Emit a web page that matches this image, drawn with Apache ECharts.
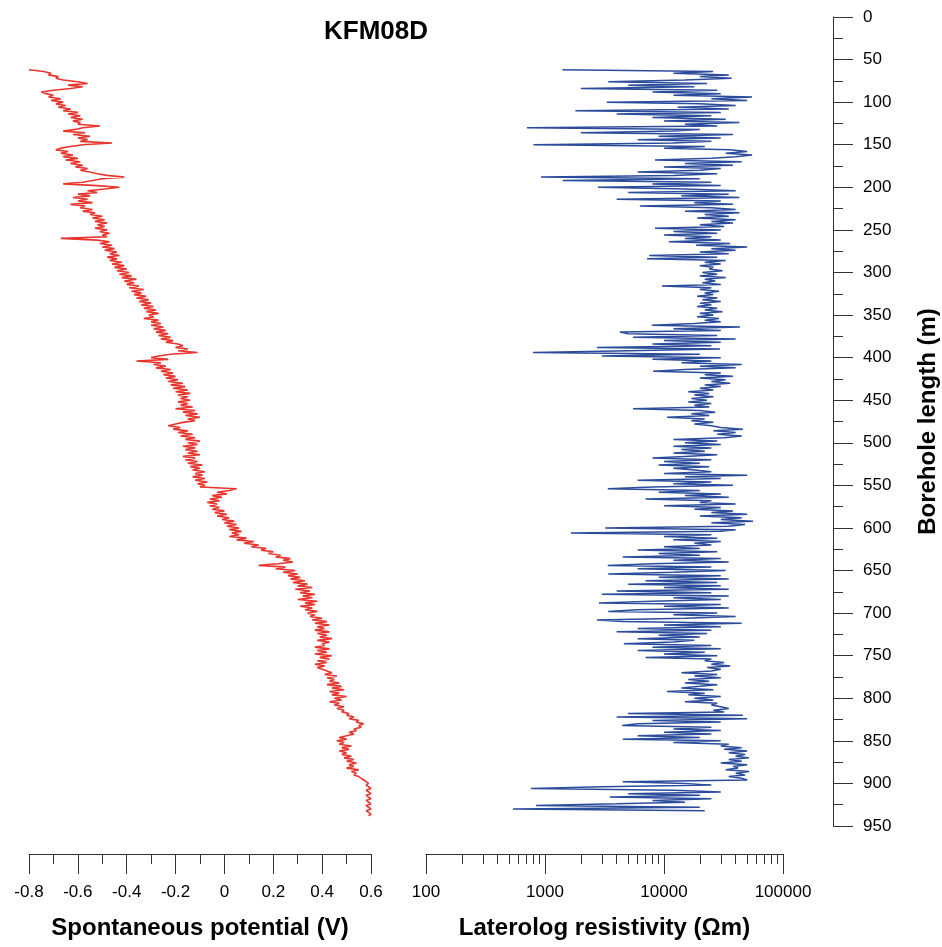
<!DOCTYPE html>
<html>
<head>
<meta charset="utf-8">
<script src="https://cdn.jsdelivr.net/npm/echarts@6/dist/echarts.min.js"></script>
<style>
html,body{margin:0;padding:0;background:#fff;}
#chart{width:942px;height:947px;}
</style>
</head>
<body>
<div id="chart"></div>
<script>
// Depth sampling of both logs (m)
const SP_DEPTH_START = 62, SP_DEPTH_STEP = 2;
const RES_DEPTH_START = 62, RES_DEPTH_STEP = 2;

// Spontaneous potential (V), one value every 2 m from 62 m (15 values = 30 m per row)
const spValues = [
  -0.80,-0.74,-0.71,-0.72,-0.68,-0.69,-0.66,-0.60,-0.56,-0.64,-0.58,-0.63,-0.70,-0.75,-0.73, // 62
  -0.70,-0.72,-0.67,-0.71,-0.66,-0.69,-0.65,-0.68,-0.63,-0.66,-0.60,-0.64,-0.59,-0.63,-0.58, // 92
  -0.62,-0.59,-0.60,-0.51,-0.58,-0.61,-0.66,-0.57,-0.62,-0.55,-0.60,-0.56,-0.59,-0.46,-0.58, // 122
  -0.63,-0.67,-0.69,-0.64,-0.67,-0.62,-0.66,-0.60,-0.65,-0.59,-0.63,-0.58,-0.61,-0.56,-0.59, // 152
  -0.55,-0.52,-0.48,-0.41,-0.50,-0.54,-0.58,-0.66,-0.52,-0.43,-0.49,-0.56,-0.52,-0.60,-0.55, // 182
  -0.62,-0.56,-0.60,-0.54,-0.63,-0.57,-0.59,-0.54,-0.58,-0.53,-0.55,-0.50,-0.54,-0.49,-0.53, // 212
  -0.48,-0.52,-0.49,-0.53,-0.48,-0.51,-0.47,-0.50,-0.48,-0.67,-0.52,-0.47,-0.51,-0.46,-0.50, // 242
  -0.45,-0.49,-0.44,-0.47,-0.43,-0.48,-0.44,-0.47,-0.42,-0.46,-0.41,-0.45,-0.40,-0.44,-0.39, // 272
  -0.43,-0.38,-0.42,-0.36,-0.41,-0.37,-0.40,-0.35,-0.39,-0.33,-0.38,-0.34,-0.37,-0.32,-0.36, // 302
  -0.31,-0.35,-0.30,-0.34,-0.29,-0.33,-0.28,-0.32,-0.27,-0.31,-0.29,-0.33,-0.27,-0.30,-0.26, // 332
  -0.30,-0.25,-0.29,-0.24,-0.28,-0.23,-0.27,-0.22,-0.26,-0.21,-0.24,-0.19,-0.17,-0.20,-0.15, // 362
  -0.19,-0.11,-0.22,-0.27,-0.30,-0.23,-0.36,-0.26,-0.29,-0.24,-0.28,-0.22,-0.26,-0.21,-0.25, // 392
  -0.20,-0.24,-0.19,-0.23,-0.17,-0.22,-0.16,-0.21,-0.15,-0.20,-0.14,-0.19,-0.15,-0.18,-0.14, // 422
  -0.19,-0.15,-0.18,-0.13,-0.20,-0.12,-0.17,-0.11,-0.16,-0.10,-0.15,-0.12,-0.17,-0.20,-0.23, // 452
  -0.18,-0.21,-0.15,-0.19,-0.13,-0.18,-0.12,-0.16,-0.10,-0.15,-0.11,-0.17,-0.12,-0.16,-0.11, // 482
  -0.15,-0.10,-0.17,-0.12,-0.16,-0.11,-0.15,-0.09,-0.14,-0.10,-0.13,-0.08,-0.12,-0.09,-0.13, // 512
  -0.08,-0.12,-0.07,-0.11,-0.08,-0.10, 0.05, 0.02,-0.03, 0.01,-0.05,-0.01,-0.06,-0.02,-0.07, // 542
  -0.03,-0.06,-0.02,-0.05, 0.00,-0.04, 0.01,-0.03, 0.02,-0.01, 0.04, 0.00, 0.05, 0.01, 0.06, // 572
   0.02, 0.07, 0.03, 0.06, 0.02, 0.09, 0.05, 0.12, 0.08, 0.14, 0.11, 0.17, 0.15, 0.20, 0.18, // 602
   0.23, 0.21, 0.27, 0.24, 0.28, 0.22, 0.14, 0.25, 0.21, 0.29, 0.24, 0.30, 0.26, 0.31, 0.27, // 632
   0.33, 0.28, 0.34, 0.30, 0.36, 0.29, 0.35, 0.31, 0.37, 0.32, 0.36, 0.30, 0.38, 0.33, 0.37, // 662
   0.31, 0.36, 0.33, 0.38, 0.34, 0.37, 0.35, 0.40, 0.36, 0.42, 0.37, 0.43, 0.38, 0.41, 0.37, // 692
   0.43, 0.38, 0.42, 0.39, 0.44, 0.38, 0.43, 0.40, 0.41, 0.37, 0.43, 0.38, 0.42, 0.37, 0.44, // 722
   0.39, 0.43, 0.38, 0.42, 0.37, 0.41, 0.38, 0.40, 0.42, 0.44, 0.41, 0.46, 0.42, 0.45, 0.43, // 752
   0.47, 0.42, 0.48, 0.44, 0.49, 0.43, 0.47, 0.44, 0.50, 0.45, 0.48, 0.43, 0.47, 0.45, 0.49, // 782
   0.46, 0.49, 0.48, 0.51, 0.50, 0.53, 0.51, 0.55, 0.54, 0.57, 0.55, 0.56, 0.53, 0.54, 0.51, // 812
   0.53, 0.50, 0.47, 0.50, 0.46, 0.49, 0.47, 0.52, 0.48, 0.51, 0.47, 0.50, 0.48, 0.52, 0.49, // 842
   0.53, 0.50, 0.54, 0.51, 0.53, 0.50, 0.55, 0.52, 0.54, 0.53, 0.55, 0.56, 0.57, 0.58, 0.59, // 872
   0.58, 0.59, 0.60, 0.58, 0.59, 0.60, 0.58, 0.59, 0.60, 0.58, 0.59, 0.60, 0.58, 0.59, 0.60, // 902
   0.58, 0.59, 0.60, 0.59                                                                    // 932
];

// Laterolog resistivity (ohm m), one value every 2 m from 62 m (15 values = 30 m per row)
const resValues = [
  1400,25800,12000,35000,20000,37000,15000,3400,23000,5000,18000,2000,28000,8000,30000,      // 62
  12000,55000,25000,50000,3300,20000,40000,13000,35000,1800,30000,4000,25000,8000,33000,     // 92
  10000,43000,15000,28000,705,20000,12000,2000,38000,9000,30000,6000,25000,12000,800,        // 122
  22000,10000,36000,50000,33000,55000,40000,25000,8400,45000,15000,38000,10000,30000,20000,  // 152
  6000,28000,12000,925,20000,1410,25000,8000,30000,2780,15000,40000,5000,35000,14000,        // 182
  43000,4000,30000,18000,38000,6270,25000,40000,15000,43000,22000,35000,19000,40000,25000,   // 212
  38000,20000,32000,8400,30000,12000,28000,10000,25000,15000,30000,11000,36000,18600,50000,  // 242
  25000,40000,20000,35000,7500,28000,7200,33000,22000,30000,20000,26000,24000,31000,21000,   // 272
  28000,20000,33000,22000,27000,21000,30000,9600,25000,20000,29000,22000,26000,19000,28000,  // 302
  21000,30000,20000,25000,19000,28000,22000,31000,20000,26000,19000,29000,22000,30000,18000, // 332
  7900,43500,12000,30000,4260,5000,28000,5500,40000,10000,30000,8000,25000,2730,29600,       // 362
  5000,793,20000,3000,30000,8000,25000,14000,45000,20000,40000,15000,8100,30000,22000,       // 392
  38000,20000,33000,25000,36000,22000,30000,20000,26000,16000,24000,18000,26000,17000,23000, // 422
  16000,25000,18000,24000,5500,20000,27000,17000,24000,10600,22000,17000,26000,18000,25000,  // 452
  30000,46000,26000,40000,28000,45000,32000,12000,28000,15000,30000,12000,25000,14000,22000,  // 482
  12000,28000,15000,8000,25000,10000,20000,9000,24000,12000,18000,25000,10000,50000,15000,   // 512
  30000,6000,25000,12000,38000,8000,3370,20000,9000,30000,15000,35000,7000,25000,20000,      // 542
  40000,10000,30000,18000,38000,25000,50000,20000,45000,30000,56000,25000,48000,35000,3200,  // 572
  40000,30000,1650,25000,10000,28000,12000,30000,18000,25000,10000,20000,6000,28000,9000,    // 602
  20000,4500,30000,12000,35000,8000,3370,25000,6000,33000,12000,3400,30000,9000,35000,       // 632
  7000,28000,5000,30000,10000,35000,4000,25000,3000,35000,12000,30000,8000,2840,30000,       // 662
  10000,35000,6000,3400,28000,12000,40000,15000,2730,4500,45000,10000,30000,6000,25000,      // 692
  4000,23000,9000,20000,6000,18000,12000,4600,25000,8000,30000,6000,22000,10000,28000,       // 722
  7000,25000,22000,32000,25000,36000,23000,30000,25000,14000,28000,18000,30000,16000,24000,  // 752
  15000,28000,20000,14000,26000,10600,22000,16000,30000,18000,26000,15000,28000,25000,30000, // 782
  35000,26000,32000,4980,46000,4000,50000,8000,30000,6000,4450,25000,12000,30000,10000,      // 812
  25000,6000,20000,4500,30000,12000,35000,30000,45000,32000,50000,35000,48000,40000,52000,   // 842
  35000,45000,30000,50000,38000,42000,33000,52000,40000,48000,35000,45000,50000,4500,15000,  // 872
  25000,3000,762,12000,30000,5000,20000,3500,25000,8000,15000,4000,840,20000,538,            // 902
  22000                                                                                      // 932
];

// Axis ticks
const spTicks = { min: -0.8, max: 0.6, interval: 0.2 };
const resTicks = { min: 100, max: 100000 };
const resMinorTicks = [200,300,400,500,600,700,800,900,
  2000,3000,4000,5000,6000,7000,8000,9000,
  20000,30000,40000,50000,60000,70000,80000,90000];
const depthTicks = { min: 0, max: 950, interval: 50 };

const spData = spValues.map((v, i) => [v, SP_DEPTH_START + i * SP_DEPTH_STEP]);
const resData = resValues.map((v, i) => [v, RES_DEPTH_START + i * RES_DEPTH_STEP]);

const FONT = "'Liberation Sans', Arial, sans-serif";
const AXIS_COLOR = '#333';
const nameStyle = { fontFamily: FONT, fontWeight: 'bold', fontSize: 24, color: '#000' };
const labelStyle = { fontSize: 17, fontFamily: FONT, color: '#000' };

const chart = echarts.init(document.getElementById('chart'), null, { renderer: 'canvas' });
chart.setOption({
  animation: false,
  backgroundColor: '#fff',
  title: {
    text: 'KFM08D',
    left: 319, top: 14,
    textStyle: { fontFamily: FONT, fontWeight: 'bold', fontSize: 26, color: '#000' }
  },
  grid: [
    { left: 29, width: 342, top: 17, height: 809, containLabel: false, outerBoundsMode: 'none' },
    { left: 426, width: 357, top: 17, height: 809, containLabel: false, outerBoundsMode: 'none' },
    { left: 426, width: 357, top: 17, height: 809, containLabel: false, outerBoundsMode: 'none' }
  ],
  xAxis: [
    {
      gridIndex: 0, type: 'value', position: 'bottom', offset: 28,
      min: spTicks.min, max: spTicks.max, interval: spTicks.interval,
      axisLine: { show: true, onZero: false, lineStyle: { color: AXIS_COLOR, width: 1 } },
      axisTick: { show: true, length: 20, lineStyle: { color: AXIS_COLOR } },
      minorTick: { show: true, splitNumber: 2, length: 10, lineStyle: { color: AXIS_COLOR } },
      splitLine: { show: false },
      axisLabel: Object.assign({ margin: 30,
        formatter: v => (Math.abs(v) < 1e-9 ? '0' : String(Math.round(v * 10) / 10)) }, labelStyle),
      name: 'Spontaneous potential (V)', nameLocation: 'middle', nameGap: 62,
      nameTextStyle: nameStyle
    },
    {
      gridIndex: 1, type: 'log', logBase: 10, position: 'bottom', offset: 28,
      min: resTicks.min, max: resTicks.max,
      axisLine: { show: true, onZero: false, lineStyle: { color: AXIS_COLOR, width: 1 } },
      axisTick: { show: true, length: 20, lineStyle: { color: AXIS_COLOR } },
      splitLine: { show: false },
      axisLabel: Object.assign({ margin: 30, formatter: v => String(Math.round(v)) }, labelStyle),
      name: 'Laterolog resistivity (Ωm)', nameLocation: 'middle', nameGap: 62,
      nameTextStyle: nameStyle
    },
    {
      gridIndex: 2, type: 'log', logBase: 10, position: 'bottom', offset: 28,
      min: resTicks.min, max: resTicks.max,
      axisLine: { show: false, onZero: false },
      axisTick: { show: true, length: 10, customValues: resMinorTicks, lineStyle: { color: AXIS_COLOR } },
      axisLabel: { show: false },
      splitLine: { show: false }
    }
  ],
  yAxis: [
    {
      gridIndex: 0, type: 'value', inverse: true,
      min: depthTicks.min, max: depthTicks.max, interval: depthTicks.interval,
      show: false
    },
    {
      gridIndex: 1, type: 'value', inverse: true, position: 'right', offset: 50,
      min: depthTicks.min, max: depthTicks.max, interval: depthTicks.interval,
      axisLine: { show: true, onZero: false, lineStyle: { color: AXIS_COLOR, width: 1 } },
      axisTick: { show: true, length: 20, lineStyle: { color: AXIS_COLOR } },
      minorTick: { show: true, splitNumber: 2, length: 10, lineStyle: { color: AXIS_COLOR } },
      splitLine: { show: false },
      axisLabel: Object.assign({ margin: 30 }, labelStyle),
      name: 'Borehole length (m)', nameLocation: 'middle', nameGap: 83, nameRotate: 90,
      nameTextStyle: nameStyle
    },
    {
      gridIndex: 2, type: 'value', inverse: true,
      min: depthTicks.min, max: depthTicks.max, interval: depthTicks.interval,
      show: false
    }
  ],
  series: [
    {
      type: 'line', xAxisIndex: 0, yAxisIndex: 0, data: spData,
      showSymbol: false, symbol: 'none', clip: true,
      lineStyle: { color: '#e8352e', width: 1.6 }
    },
    {
      type: 'line', xAxisIndex: 1, yAxisIndex: 1, data: resData,
      showSymbol: false, symbol: 'none', clip: true,
      lineStyle: { color: '#2b4c9b', width: 1.5 }
    }
  ]
});
</script>
</body>
</html>
